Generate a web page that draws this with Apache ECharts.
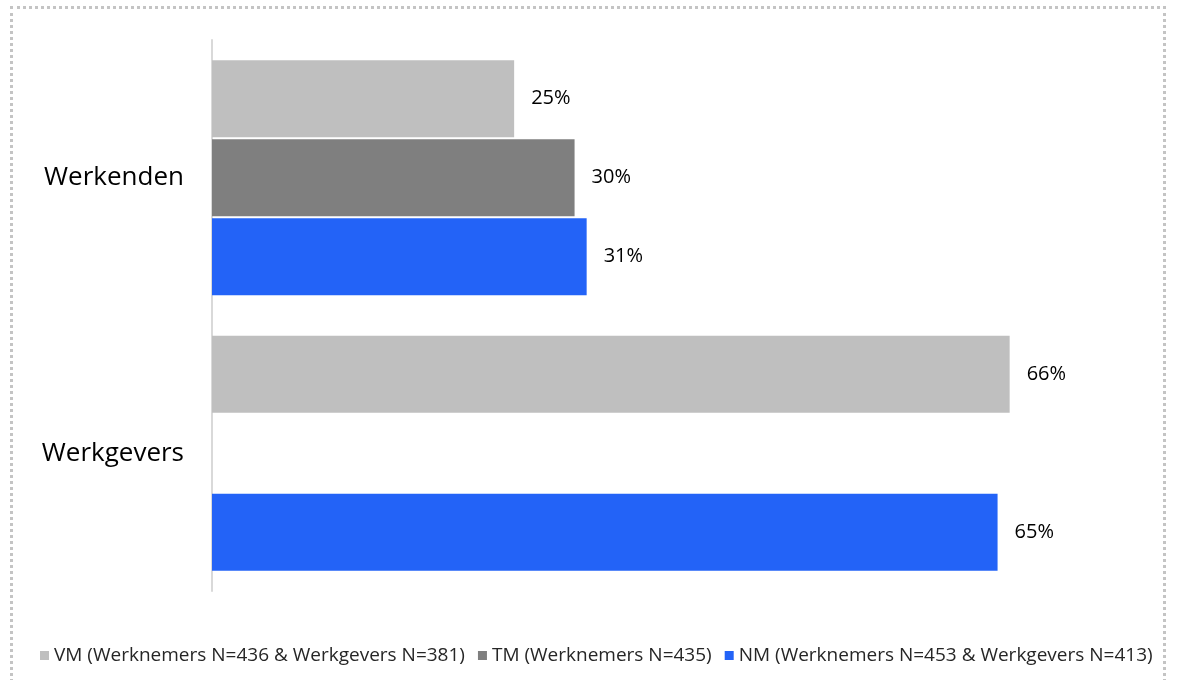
<!DOCTYPE html>
<html>
<head>
<meta charset="utf-8">
<script src="https://cdn.jsdelivr.net/npm/echarts@6/dist/echarts.min.js"></script>
<style>
  html, body { margin: 0; padding: 0; background: #fff; }
  #frame { position: absolute; left: 10px; top: 6px; width: 1150px; height: 700px; border: 3px dotted #c4c4c4; }
  #chart { position: absolute; left: 0; top: 0; width: 1183px; height: 680px; }
</style>
</head>
<body>
<div id="frame"></div>
<div id="chart"></div>
<script>
// Groups shown on the category axis
const categories = ['Werkenden', 'Werkgevers'];

// Series names (legend text)
const seriesNames = [
  'VM (Werknemers N=436 & Werkgevers N=381)',
  'TM (Werknemers N=435)',
  'NM (Werknemers N=453 & Werkgevers N=413)'
];

// Percentages per group (null = no measurement)
const vmValues = [25, 66];
const tmValues = [30, null];
const nmValues = [31, 65];

const colors = ['#bfbfbf', '#7f7f7f', '#2363f7'];
const fontFamily = '"Open Sans", "Liberation Sans", sans-serif';

const chart = echarts.init(document.getElementById('chart'), null, { renderer: 'canvas' });

function makeSeries(name, data, color) {
  return {
    name: name,
    type: 'bar',
    data: data,
    barWidth: 77,
    barGap: '2.6%',
    itemStyle: { color: color },
    label: {
      show: true,
      position: 'right',
      distance: 17,
      formatter: function (p) { return p.value == null ? '' : p.value + '%'; },
      fontSize: 20,
      color: '#000',
      fontFamily: fontFamily
    }
  };
}

chart.setOption({
  animation: false,
  color: colors,
  grid: { left: 212, top: 40, width: 846, height: 551, containLabel: false },
  xAxis: {
    type: 'value',
    min: 0,
    max: 70,
    show: false
  },
  yAxis: {
    type: 'category',
    data: categories,
    inverse: true,
    axisLine: { show: true, lineStyle: { color: '#d9d9d9', width: 2 } },
    axisTick: { show: false },
    axisLabel: { margin: 28, fontSize: 26, color: '#000', fontFamily: fontFamily }
  },
  legend: {
    top: 641,
    left: 35,
    itemWidth: 9,
    itemHeight: 9,
    itemGap: 13,
    icon: 'rect',
    textStyle: { fontSize: 19, color: '#262626', fontFamily: fontFamily },
    data: seriesNames
  },
  series: [
    makeSeries(seriesNames[0], vmValues, colors[0]),
    makeSeries(seriesNames[1], tmValues, colors[1]),
    makeSeries(seriesNames[2], nmValues, colors[2])
  ]
});
</script>
</body>
</html>
